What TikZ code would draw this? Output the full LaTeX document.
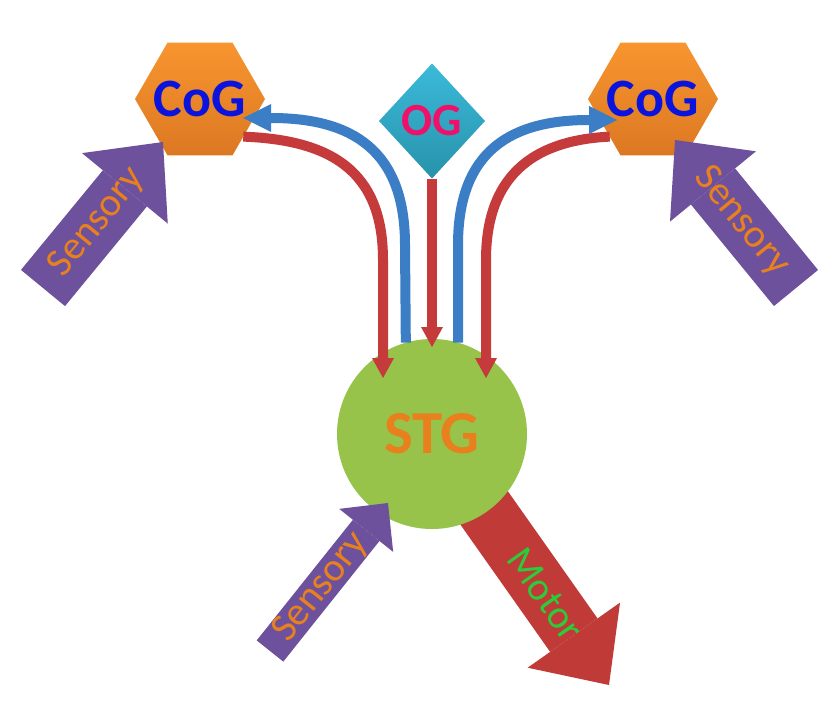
\documentclass[tikz,border=0pt]{standalone}
\usepackage{fontspec}
\setmainfont{Carlito}
\usetikzlibrary{shapes.geometric,arrows.meta}

\definecolor{hextop}{HTML}{F8952F}
\definecolor{hexbot}{HTML}{DC7822}
\definecolor{ogtop}{HTML}{3BBADA}
\definecolor{ogbot}{HTML}{2892AA}
\definecolor{stggreen}{HTML}{97C34B}
\definecolor{fbred}{HTML}{C53B3B}
\definecolor{fbblue}{HTML}{3B7EC6}
\definecolor{senspurple}{HTML}{6E519C}
\definecolor{motorred}{HTML}{C03A38}
\definecolor{labelorange}{HTML}{E8801E}
\definecolor{motorgreen}{HTML}{2CCB3A}
\definecolor{ogpink}{HTML}{F0106A}
\definecolor{cogblue}{HTML}{0A14DC}

\tikzset{
  fatarrow/.style n args={3}{line width=#1,
    -{Triangle[width=#2,length=#3,line width=0pt]}},
  bigfont/.style={font=\fontsize{#1}{#1}\selectfont\bfseries},
}

\begin{document}
\begin{tikzpicture}[x=1pt, y=-1pt,
    cog/.style={regular polygon, regular polygon sides=6, minimum size=130pt,
      inner sep=-14pt, outer sep=0pt, top color=hextop, bottom color=hexbot,
      draw=none, text=cogblue, bigfont=54},
    og/.style={diamond, minimum width=106pt, minimum height=115pt, inner sep=0pt,
      outer sep=0pt, top color=ogtop, bottom color=ogbot, text=ogpink,
      bigfont=46},
    stg/.style={circle, minimum size=190pt, inner sep=0pt, outer sep=0pt,
      fill=stggreen, text=labelorange, bigfont=61},
    redline/.style={draw=fbred, line width=10pt,
      -{Triangle[width=22pt,length=20pt,line width=0pt]}},
    blueline/.style={draw=fbblue, line width=10pt,
      -{Triangle[width=28pt,length=28pt,line width=0pt]}},
    lbl/.style={sloped, font=\fontsize{40}{40}\selectfont, text=labelorange}]
  \useasboundingbox (0,0) rectangle (840,720);
  \fill[white] (0,0) rectangle (840,720);

  % Motor output, under the STG disc
  \coordinate (stgc) at (432,434);
  \coordinate (motortip) at (609,685);
  \draw[fatarrow={58pt}{113pt}{61pt}, motorred] (stgc) -- (motortip)
    node[lbl, pos=.64, text=motorgreen] {Motor};
  \node[stg] (STG) at (stgc) {STG};

  % Goal nodes
  \node[og] (OG) at (432,121) {OG};
  \node[cog] (cogL) at (200,99) {CoG};
  \node[cog] (cogR) at (653,99) {CoG};

  % Red feedback into STG
  \coordinate (redL) at (383,378);
  \coordinate (redM) at (432,347);
  \coordinate (redR) at (486,378);
  \draw[redline] (cogL.-41) .. controls (330,140) and (383,170) .. (383,260) -- (redL);
  \draw[redline] (OG.south) -- (redM);
  \draw[redline] (cogR.221) .. controls (540,140) and (486,170) .. (486,260) -- (redR);

  % Blue STG to CoG
  \coordinate (blueL) at (243,118);
  \coordinate (blueR) at (617,120);
  \draw[blueline] (STG.106) -- (405,245) .. controls (405,150) and (352,118) .. (blueL);
  \draw[blueline] (STG.74) -- (458,245) .. controls (458,150) and (512,120) .. (blueR);

  % Sensory inputs
  \coordinate (sensLt) at (43,288);
  \coordinate (sensLh) at (163,142);
  \coordinate (sensRt) at (796,288);
  \coordinate (sensRh) at (675,140);
  \coordinate (sensBt) at (270,651);
  \coordinate (sensBh) at (388,503);
  \draw[fatarrow={57pt}{111pt}{60pt}, senspurple] (sensLt) -- (sensLh)
    node[lbl, pos=.45] {Sensory};
  \draw[fatarrow={57pt}{111pt}{60pt}, senspurple] (sensRt) -- (sensRh)
    node[lbl, pos=.45] {Sensory};
  \draw[fatarrow={34pt}{69pt}{35pt}, senspurple] (sensBt) -- (sensBh)
    node[lbl, pos=.43] {Sensory};
\end{tikzpicture}
\end{document}
